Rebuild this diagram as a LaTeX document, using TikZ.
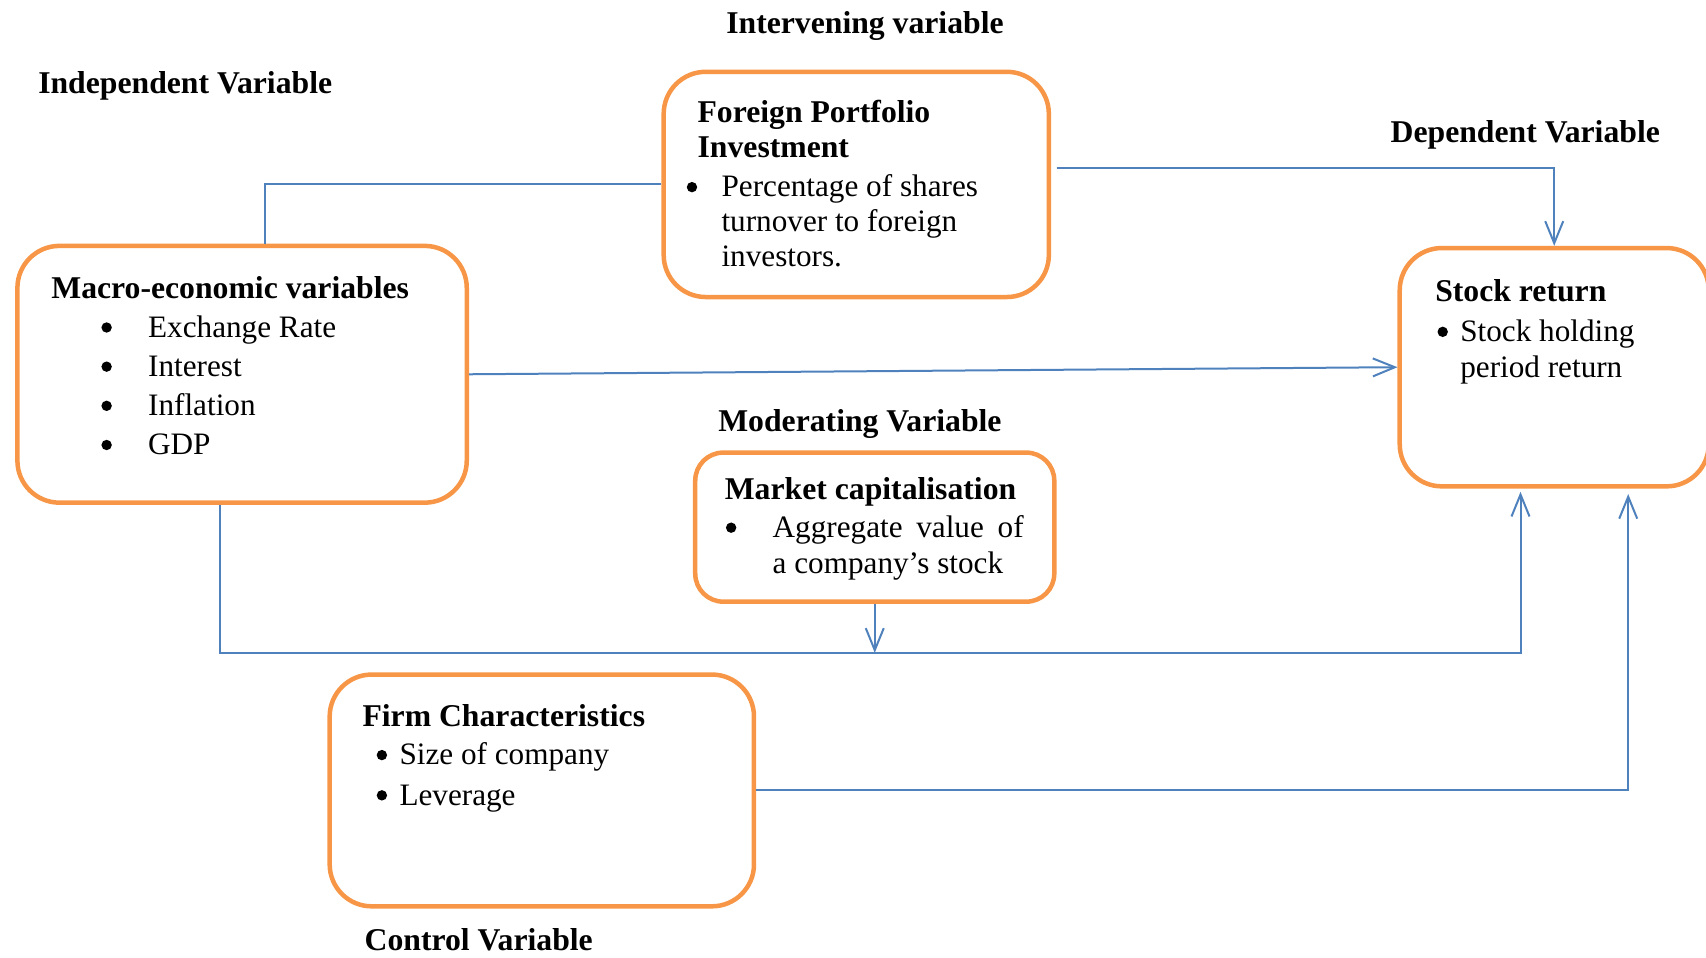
\documentclass[tikz,border=0pt]{standalone}
\usepackage{fontspec}
\setmainfont{Liberation Serif}
\usetikzlibrary{arrows.meta,calc}
\definecolor{boxorange}{RGB}{247,150,70}
\definecolor{lineblue}{RGB}{79,129,189}

\tikzset{
  varbox/.style={draw=boxorange,line width=4.5pt,rounded corners=42pt,inner sep=0pt},
  head/.style={font=\fontsize{31.7}{36}\selectfont\bfseries,inner sep=0pt,anchor=base west},
  txt/.style={font=\fontsize{31.2}{36}\selectfont,inner sep=0pt,anchor=base west},
  link/.style={draw=lineblue,line width=2pt},
  arr/.style={link,-{Straight Barb[length=22pt,width=18pt]}}
}

\begin{document}
\begin{tikzpicture}[x=1.088pt,y=-1.088pt]
   \useasboundingbox (0,0) rectangle (1568,880);
   % boxes
   \node[varbox,minimum width=354*1.088pt,minimum height=207*1.088pt] (fpi) at (787,169.5) {};
   \node[varbox,minimum width=413*1.088pt,minimum height=236*1.088pt] (macro) at (222.5,344) {};
   \node[varbox,minimum width=284*1.088pt,minimum height=219*1.088pt] (stock) at (1428.5,337.5) {};
   \node[varbox,rounded corners=28pt,minimum width=330*1.088pt,minimum height=137*1.088pt] (cap) at (804,484.5) {};
   \node[varbox,minimum width=390*1.088pt,minimum height=213*1.088pt] (firm) at (498,726.5) {};
   % variable labels
   \node[head,anchor=base] (intlab) at (795,31) {Intervening variable};
   \node[head] (indlab) at (35,86) {Independent Variable};
   \node[head] (deplab) at (1278,131) {Dependent Variable};
   \node[head] (modlab) at (660,397) {Moderating Variable};
   \node[head] (conlab) at (335,874) {Control Variable};
   % foreign portfolio investment
   \node[head] (fpih1) at (641,113) {Foreign Portfolio};
   \node[head] (fpih2) at (641,145) {Investment};
   \fill (636,172) circle(5.2pt);
   \node[txt] (fpii1) at (663,181) {Percentage of shares};
   \node[txt] (fpii2) at (663,213) {turnover to foreign};
   \node[txt] (fpii3) at (663,245) {investors.};
   % macro-economic variables
   \node[head] (macroh) at (47,274) {Macro-economic variables};
   \foreach \t [count=\i] in {Exchange Rate,Interest,Inflation,GDP}{
     \fill (98,265+36*\i) circle(5.2pt);
     \node[txt] (macroi\i) at (136,274+36*\i) {\t};
   }
   % stock return
   \node[head] (stockh) at (1319,277) {Stock return};
   \fill (1326,305) circle(5.2pt);
   \node[txt] (stocki1) at (1342,314) {Stock holding};
   \node[txt] (stocki2) at (1342,347) {period return};
   % market capitalisation
   \node[head] (caph) at (666,459) {Market capitalisation};
   \fill (672,485) circle(5.2pt);
   \node[txt] (capi1) at (710,494) {\makebox[251pt][s]{Aggregate value of}};
   \node[txt] (capi2) at (710,527) {a company’s stock};
   % firm characteristics
   \node[head] (firmh) at (333,668) {Firm Characteristics};
   \fill (351,694) circle(5.2pt);
   \fill (351,731) circle(5.2pt);
   \node[txt] (firmi1) at (367,703) {Size of company};
   \node[txt] (firmi2) at (367,740) {Leverage};
   % connectors
   \coordinate (modjoin) at (806,600);
   \draw[link] ($(macro.north)+(21,0)$) |- (fpi.west);
   \draw[arr] ($(fpi.east)+(5,-15)$) -| (stock.north);
   \draw[arr] (macro.east) -- (stock.west);
   \draw[arr] ($(macro.south)+(-20,0)$) |- (modjoin) -| ($(stock.south)+(-31,3)$);
   \draw[arr] (cap.south) -- (cap.south |- modjoin);
   \draw[arr] (firm.east) -| ($(stock.south)+(68,5)$);
\end{tikzpicture}
\end{document}
